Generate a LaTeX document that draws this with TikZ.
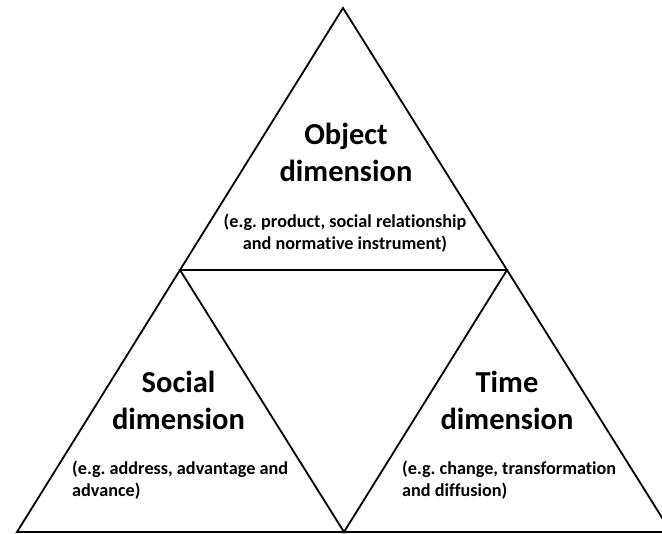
\documentclass[tikz,border=0pt]{standalone}
\usepackage{fontspec}
\setmainfont{Carlito}[Ligatures={NoCommon}]
\frenchspacing
\begin{document}
\begin{tikzpicture}[x=1pt,y=-1pt,
  edge/.style={line width=1.8pt, line join=miter},
  title/.style={font=\fontsize{30.5}{37}\selectfont\bfseries, inner sep=0pt, anchor=base},
  note/.style={font=\fontsize{18.2}{22}\selectfont\bfseries, inner sep=0pt, anchor=base},
  noteleft/.style={note, anchor=base west}]
\useasboundingbox (0,0) rectangle (662,534);
% corners of the big triangle and midpoints of its sides
\coordinate (apex) at (343,8);
\coordinate (bl) at (17,532);
\coordinate (br) at (671,532);
\coordinate (ml) at (180,270);
\coordinate (mr) at (507,270);
\coordinate (mb) at (344,532);
% outer triangle and the inner inverted one
\draw[edge] (apex) -- (bl) -- (br) -- cycle;
\draw[edge] (ml) -- (mr) -- (mb) -- cycle;
% top part
\node[title] (objA) at (346,145) {Object};
\node[title] (objB) at (346,182) {dimension};
\node[note] (objC) at (345,228) {(e.g. product, social relationship};
\node[note] (objD) at (345,250) {and normative instrument)};
% left part
\node[title] (socA) at (178.5,393) {Social};
\node[title] (socB) at (178.5,430) {dimension};
\node[noteleft] (socC) at (72,475) {(e.g. address, advantage and};
\node[noteleft] (socD) at (72,497) {advance)};
% right part
\node[title] (timA) at (507,393) {Time};
\node[title] (timB) at (507,430) {dimension};
\node[noteleft] (timC) at (402,475) {(e.g. change, transformation};
\node[noteleft] (timD) at (402,497) {and diffusion)};
\end{tikzpicture}
\end{document}
